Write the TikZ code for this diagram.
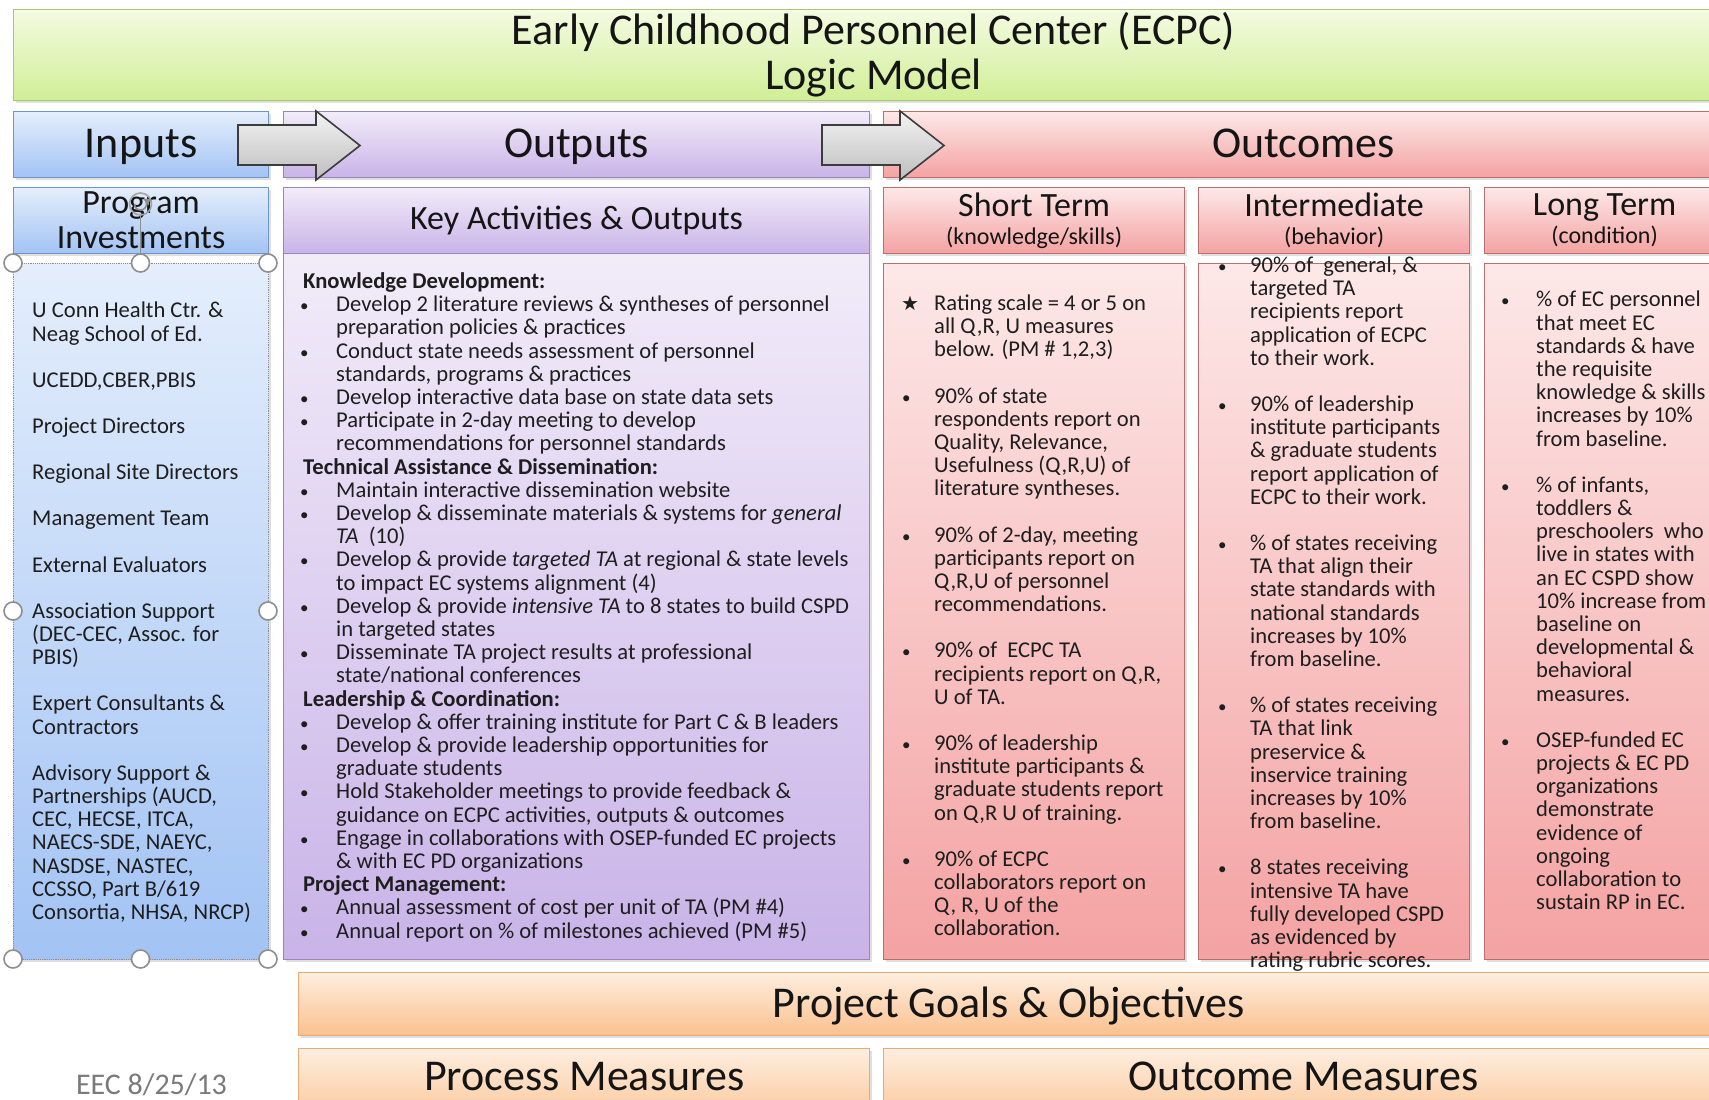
\documentclass[tikz,border=0pt]{standalone}
\usepackage{fontspec}
\setmainfont{Carlito}
\newfontfamily\starfont{DejaVu Sans}
\usepackage{tikz}
\usetikzlibrary{arrows}
\usetikzlibrary{shadows}

% colours of the panels
\definecolor{grnTop}{HTML}{F4FBE2}
\definecolor{grnBot}{HTML}{D0EE96}
\definecolor{grnLine}{HTML}{A9C86C}
\definecolor{bluTop}{HTML}{E4EEFC}
\definecolor{bluBot}{HTML}{A2C3F4}
\definecolor{bluLine}{HTML}{7096C6}
\definecolor{purTop}{HTML}{F2ECF9}
\definecolor{purBot}{HTML}{C9B3E8}
\definecolor{purLine}{HTML}{9A86BA}
\definecolor{redTop}{HTML}{FDE8E8}
\definecolor{redBot}{HTML}{F4A2A2}
\definecolor{redLine}{HTML}{B96F6E}
\definecolor{orgTop}{HTML}{FEEEDF}
\definecolor{orgBot}{HTML}{FAC08E}
\definecolor{orgLine}{HTML}{EBAA72}
\definecolor{arrTop}{HTML}{F4F4F4}
\definecolor{arrBot}{HTML}{BDBDBD}
\definecolor{arrLine}{HTML}{3C3C3C}
\definecolor{hdlLine}{HTML}{8E8E8E}
\definecolor{txtDark}{HTML}{151515}
\definecolor{txtBody}{HTML}{1E1E1E}
\definecolor{dateGray}{HTML}{7A7A7A}

\newlength{\igap}
\setlength{\igap}{23pt}
\newlength{\bulsh}
\newcommand{\bul}{\makebox[33pt][l]{\hspace{\bulsh}\scalebox{0.75}{\textbullet}}}
\newcommand{\ind}{\hspace*{33pt}}
\newcommand{\starb}{\makebox[33pt][l]{\hspace{0pt}{\starfont\fontsize{20}{20}\selectfont ★}}}

\begin{document}
\begin{tikzpicture}[x=1pt,y=-1pt,
    box/.style={draw,line width=1.2pt,anchor=north west,inner sep=0pt,
        drop shadow={opacity=0.25,shadow xshift=2pt,shadow yshift=-2.5pt}},
    grnbox/.style={box,draw=grnLine,top color=grnTop,bottom color=grnBot},
    blubox/.style={box,draw=bluLine,top color=bluTop,bottom color=bluBot},
    purbox/.style={box,draw=purLine,top color=purTop,bottom color=purBot},
    redbox/.style={box,draw=redLine,top color=redTop,bottom color=redBot},
    orgbox/.style={box,draw=orgLine,top color=orgTop,bottom color=orgBot},
    bigtxt/.style={font=\fontsize{44}{45}\selectfont,text=txtDark},
    onetxt/.style={bigtxt,text height=34pt,text depth=8pt},
    midtxt/.style={font=\fontsize{34}{35}\selectfont,text=txtDark,align=center},
    body/.style={anchor=north west,align=left,inner sep=0pt,
        font=\fontsize{22.6}{23.2}\selectfont,text=txtBody},
    handle/.style={circle,draw=hdlLine,line width=1.6pt,fill=white,
        minimum size=18pt,inner sep=0pt},
    blockarrow/.style={draw=arrLine,line width=1.6pt,line join=miter,
        top color=arrTop,bottom color=arrBot}]

    \clip (0,0) rectangle (1709,1100);
    \fill[white] (0,0) rectangle (1709,1100);

    % Title
    \node[grnbox,bigtxt,align=center,minimum width=1720,minimum height=91] (title) at (13,9)
        {Early Childhood Personnel Center (ECPC)\\Logic Model};

    % First header row
    \node[blubox,onetxt,minimum width=255,minimum height=66] (inputs) at (13,111) {Inputs};
    \node[purbox,onetxt,minimum width=586,minimum height=66] (outputs) at (283,111) {Outputs};
    \node[redbox,onetxt,minimum width=840,minimum height=66] (outcomes) at (883,111) {Outcomes};

    % Second header row
    \node[blubox,midtxt,minimum width=255,minimum height=66] (progInv) at (13,187)
        {Program\\Investments};
    \node[purbox,midtxt,minimum width=586,minimum height=66] (keyAct) at (283,187)
        {Key Activities \& Outputs};
    \node[redbox,midtxt,minimum width=301,minimum height=66] (shortT) at (883,187)
        {Short Term\\[-7pt]{\fontsize{24}{25}\selectfont (knowledge/skills)}};
    \node[redbox,midtxt,minimum width=271,minimum height=66] (interT) at (1198,187)
        {Intermediate\\[-7pt]{\fontsize{24}{25}\selectfont (behavior)}};
    \node[redbox,midtxt,minimum width=240,minimum height=66] (longT) at (1484,187)
        {Long Term\\[-7pt]{\fontsize{24}{25}\selectfont (condition)}};

    % Column bodies
    \node[blubox,draw=hdlLine,densely dotted,minimum width=255,minimum height=696] (inputsBody) at (13,263) {};
    \node[purbox,minimum width=586,minimum height=706] (keyBody) at (283,253) {};
    \node[redbox,minimum width=301,minimum height=696] (shortBody) at (883,263) {};
    \node[redbox,minimum width=271,minimum height=696] (interBody) at (1198,263) {};
    \node[redbox,minimum width=240,minimum height=696] (longBody) at (1484,263) {};

    % Bottom bars
    \node[orgbox,onetxt,minimum width=1420,minimum height=63] (goals) at (298,972)
        {Project Goals \& Objectives};
    \node[orgbox,bigtxt,minimum width=571,minimum height=84,text depth=0pt] (processM) at (298,1048)
        {\raisebox{0pt}[0pt][0pt]{Process Measures}};
    \node[orgbox,bigtxt,minimum width=840,minimum height=84,text depth=0pt] (outcomeM) at (883,1048)
        {\raisebox{0pt}[0pt][0pt]{Outcome Measures}};
    \node[font=\fontsize{30}{32}\selectfont,text=dateGray] (date) at (151.5,1085) {EEC 8/25/13};

    % Inputs list
    \node[body] (inputsTxt) at (32,302) {%
        U Conn Health Ctr. \&\\
        Neag School of Ed.\\[\igap]
        UCEDD,CBER,PBIS\\[\igap]
        Project Directors\\[\igap]
        Regional Site Directors\\[\igap]
        Management Team\\[\igap]
        External Evaluators\\[\igap]
        Association Support\\
        (DEC-CEC, Assoc. for\\
        PBIS)\\[\igap]
        Expert Consultants \&\\
        Contractors\\[\igap]
        Advisory Support \&\\
        Partnerships (AUCD,\\
        CEC, HECSE, ITCA,\\
        NAECS-SDE, NAEYC,\\
        NASDSE, NASTEC,\\
        CCSSO, Part B/619\\
        Consortia, NHSA, NRCP)};

    % Key activities
    \setlength{\bulsh}{-3pt}
    \node[body] (keyTxt) at (303,272.5) {%
        \textbf{Knowledge Development:}\\
        \bul Develop 2 literature reviews \& syntheses of personnel\\
        \ind preparation policies \& practices\\
        \bul Conduct state needs assessment of personnel\\
        \ind standards, programs \& practices\\
        \bul Develop interactive data base on state data sets\\
        \bul Participate in 2-day meeting to develop\\
        \ind recommendations for personnel standards\\
        \textbf{Technical Assistance \& Dissemination:}\\
        \bul Maintain interactive dissemination website\\
        \bul Develop \& disseminate materials \& systems for \textit{general}\\
        \ind \textit{TA}\ \ (10)\\
        \bul Develop \& provide \textit{targeted TA} at regional \& state levels\\
        \ind to impact EC systems alignment (4)\\
        \bul Develop \& provide \textit{intensive TA} to 8 states to build CSPD\\
        \ind in targeted states\\
        \bul Disseminate TA project results at professional\\
        \ind state/national conferences\\
        \textbf{Leadership \& Coordination:}\\
        \bul Develop \& offer training institute for Part C \& B leaders\\
        \bul Develop \& provide leadership opportunities for\\
        \ind graduate students\\
        \bul Hold Stakeholder meetings to provide feedback \&\\
        \ind guidance on ECPC activities, outputs \& outcomes\\
        \bul Engage in collaborations with OSEP-funded EC projects\\
        \ind \& with EC PD organizations\\
        \textbf{Project Management:}\\
        \bul Annual assessment of cost per unit of TA (PM \#4)\\
        \bul Annual report on \% of milestones achieved (PM \#5)};

    % Short term outcomes
    \setlength{\bulsh}{1pt}
    \node[body] (shortTxt) at (901,294.5) {%
        \starb Rating scale = 4 or 5 on\\
        \ind all Q,R, U measures\\
        \ind below. (PM \# 1,2,3)\\[\igap]
        \bul 90\% of state\\
        \ind respondents report on\\
        \ind Quality, Relevance,\\
        \ind Usefulness (Q,R,U) of\\
        \ind literature syntheses.\\[\igap]
        \bul 90\% of 2-day, meeting\\
        \ind participants report on\\
        \ind Q,R,U of personnel\\
        \ind recommendations.\\[\igap]
        \bul 90\% of\ \ ECPC TA\\
        \ind recipients report on Q,R,\\
        \ind U of TA.\\[\igap]
        \bul 90\% of leadership\\
        \ind institute participants \&\\
        \ind graduate students report\\
        \ind on Q,R U of training.\\[\igap]
        \bul 90\% of ECPC\\
        \ind collaborators report on\\
        \ind Q, R, U of the\\
        \ind collaboration.};

    % Intermediate outcomes
    \node[body] (interTxt) at (1217,256.5) {%
        \bul 90\% of\ \ general, \&\\
        \ind targeted TA\\
        \ind recipients report\\
        \ind application of ECPC\\
        \ind to their work.\\[\igap]
        \bul 90\% of leadership\\
        \ind institute participants\\
        \ind \& graduate students\\
        \ind report application of\\
        \ind ECPC to their work.\\[\igap]
        \bul \% of states receiving\\
        \ind TA that align their\\
        \ind state standards with\\
        \ind national standards\\
        \ind increases by 10\%\\
        \ind from baseline.\\[\igap]
        \bul \% of states receiving\\
        \ind TA that link\\
        \ind preservice \&\\
        \ind inservice training\\
        \ind increases by 10\%\\
        \ind from baseline.\\[\igap]
        \bul 8 states receiving\\
        \ind intensive TA have\\
        \ind fully developed CSPD\\
        \ind as evidenced by\\
        \ind rating rubric scores.};

    % Long term outcomes
    \setlength{\bulsh}{-2pt}
    \node[body] (longTxt) at (1503,291) {%
        \bul \% of EC personnel\\
        \ind that meet EC\\
        \ind standards \& have\\
        \ind the requisite\\
        \ind knowledge \& skills\\
        \ind increases by 10\%\\
        \ind from baseline.\\[\igap]
        \bul \% of infants,\\
        \ind toddlers \&\\
        \ind preschoolers\ \ who\\
        \ind live in states with\\
        \ind an EC CSPD show\\
        \ind 10\% increase from\\
        \ind baseline on\\
        \ind developmental \&\\
        \ind behavioral\\
        \ind measures.\\[\igap]
        \bul OSEP-funded EC\\
        \ind projects \& EC PD\\
        \ind organizations\\
        \ind demonstrate\\
        \ind evidence of\\
        \ind ongoing\\
        \ind collaboration to\\
        \ind sustain RP in EC.};

    % Selection handles of the inputs box
    \foreach \hx/\hy [count=\i] in {13/263,140.5/263,268/263,13/611,268/611,13/959,140.5/959,268/959}
        \node[handle] (hdl\i) at (\hx,\hy) {};
    \node[circle,draw=hdlLine!80,line width=1.6pt,minimum size=22pt,inner sep=0pt] (rot) at (140.5,204) {};
    \draw[hdlLine,line width=1.2pt] (rot) -- (hdl2);
    \draw[hdlLine,line width=1.6pt,->,>=stealth'] (rot.center) ++(-6,0) arc[start angle=180,end angle=-60,radius=6];

    % Block arrows between the header boxes
    \foreach \ax in {238,822}
        \draw[blockarrow] (\ax,125) -- ({\ax+78},125) -- ({\ax+78},111) -- ({\ax+122},145.5)
            -- ({\ax+78},180) -- ({\ax+78},165) -- (\ax,165) -- cycle;

\end{tikzpicture}
\end{document}
